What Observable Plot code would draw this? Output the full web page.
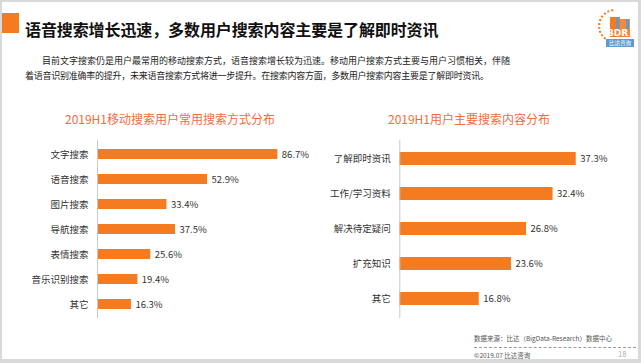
<!DOCTYPE html>
<html>
<head>
<meta charset="utf-8">
<script src="https://cdn.jsdelivr.net/npm/d3@7"></script>
<script src="https://cdn.jsdelivr.net/npm/@observablehq/plot@0.6"></script>
<style>
  html, body { margin: 0; padding: 0; background: #fff; }
  body { width: 641px; height: 363px; position: relative; overflow: hidden;
         font-family: "Noto Sans CJK SC", "Noto Sans", sans-serif; }
  .frame { position: absolute; left: 0; top: 0; width: 641px; height: 363px; box-sizing: border-box;
           border-style: solid; border-color: #d9d9d9; border-width: 2px 3px 4px 2px; }
  .abs { position: absolute; white-space: nowrap; }
  .title { left: 25px; top: 18px; font-size: 16px; line-height: 22px; font-weight: 700; color: #111; letter-spacing: -0.1px; }
  .bar { left: 2px; top: 13px; width: 17px; height: 20px; background: #F47B20; }
  .sub { font-size: 9px; line-height: 15px; color: #222; }
  .ctitle { font-size: 12px; line-height: 16px; color: #F26B3D; transform: translateX(-50%); }
  .foot { font-size: 6.5px; line-height: 9px; color: #555; }
  .dash { left: 474px; top: 346.5px; width: 162px; border-top: 1px dashed #999; }
  .chart { position: absolute; top: 130px; }
</style>
</head>
<body>
<div class="frame"></div>
<div class="abs bar"></div>
<div class="abs title" id="title"></div>
<div class="abs sub" id="sub1" style="left:42px; top:53px; letter-spacing:0px;"></div>
<div class="abs sub" id="sub2" style="left:25px; top:68px; letter-spacing:-0.25px;"></div>
<div class="abs ctitle" id="lt" style="left:170px; top:111px;"></div>
<div class="abs ctitle" id="rt" style="left:469px; top:111px;"></div>
<div class="chart" id="left" style="left:0px;"></div>
<div class="chart" id="right" style="left:320px;"></div>
<div class="abs foot" id="src" style="left:474px; top:333.5px;"></div>
<div class="abs dash"></div>
<div class="abs foot" id="copy" style="left:474px; top:350.5px;"></div>
<div class="abs foot" style="left:618px; top:348.5px; color:#aaa; font-size:7.5px;">18</div>
<!-- logo -->
<div class="abs" style="left:598px; top:7px; width:38px; height:42px;">
  <div style="position:absolute; left:0; top:2px; width:34px; height:34px; border-radius:50%; border:2px dotted #F47B20; box-sizing:border-box; clip-path: inset(0 50% 0 0);"></div>
  <div style="position:absolute; left:12px; top:10px; width:10px; height:20px; background:#F47B20;"></div>
  <div style="position:absolute; left:22px; top:12px; width:10px; height:18px; background:#F58A3A;"></div>
  <div style="position:absolute; left:18px; top:10px; width:3px; height:12px; background:#5B9BD5;"></div>
  <div style="position:absolute; left:28px; top:12px; width:3px; height:10px; background:#5B9BD5;"></div>
  <div style="position:absolute; left:9px; top:21px; font:700 9px 'DejaVu Sans', sans-serif; color:#fff; letter-spacing:0px;">BDR</div>
  <div style="position:absolute; left:8px; top:32px; width:28px; height:8px; background:#5B9BD5; color:#fff; font-size:5.5px; line-height:8px; text-align:center;">比达咨询</div>
</div>
<script>
// ---- texts ----
const titleText = "语音搜索增长迅速，多数用户搜索内容主要是了解即时资讯";
const subLine1 = "目前文字搜索仍是用户最常用的移动搜索方式，语音搜索增长较为迅速。移动用户搜索方式主要与用户习惯相关，伴随";
const subLine2 = "着语音识别准确率的提升，未来语音搜索方式将进一步提升。在搜索内容方面，多数用户搜索内容主要是了解即时资讯。";
const leftTitle = "2019H1移动搜索用户常用搜索方式分布";
const rightTitle = "2019H1用户主要搜索内容分布";
const sourceText = "数据来源：比达（BigData-Research）数据中心";
const copyText = "©2019.07 比达咨询";

// ---- data ----
const leftCats = ["文字搜索", "语音搜索", "图片搜索", "导航搜索", "表情搜索", "音乐识别搜索", "其它"];
const leftVals = [86.7, 52.9, 33.4, 37.5, 25.6, 19.4, 16.3];
const rightCats = ["了解即时资讯", "工作/学习资料", "解决待定疑问", "扩充知识", "其它"];
const rightVals = [37.3, 32.4, 26.8, 23.6, 16.8];

document.getElementById("title").textContent = titleText;
document.getElementById("sub1").textContent = subLine1;
document.getElementById("sub2").textContent = subLine2;
document.getElementById("lt").textContent = leftTitle;
document.getElementById("rt").textContent = rightTitle;
document.getElementById("src").textContent = sourceText;
document.getElementById("copy").textContent = copyText;

const FONT = '"Noto Sans CJK SC", "Noto Sans", sans-serif';

function chart(cats, vals, opts) {
  const data = cats.map((c, i) => ({c, v: vals[i]}));
  return Plot.plot({
    width: opts.width,
    height: 200,
    marginTop: 10,
    marginBottom: 12,
    marginLeft: opts.marginLeft,
    marginRight: opts.marginRight,
    x: {domain: [0, opts.xMax], axis: null},
    y: {domain: cats, paddingInner: opts.pi, paddingOuter: opts.po, label: null},
    style: {fontFamily: FONT, fontSize: "9.5px", color: "#333", background: "transparent", overflow: "visible"},
    marks: [
      Plot.barX(data, {x: "v", y: "c", fill: "#F47B20"}),
      Plot.ruleX([0], {stroke: "#c8c8c8", strokeWidth: 1}),
      Plot.text(data, {x: "v", y: "c", text: d => d.v.toFixed(1) + "%", dx: 4, textAnchor: "start", fill: "#333", fontSize: 9.5}),
      Plot.axisY({tickSize: 0, tickPadding: 9, fontSize: 9.5, label: null})
    ]
  });
}

document.getElementById("left").append(chart(leftCats, leftVals, {width: 320, marginLeft: 97, marginRight: 15, xMax: 100, pi: 0.59, po: 0.3}));
document.getElementById("right").append(chart(rightCats, rightVals, {width: 321, marginLeft: 79.3, marginRight: 52.5, xMax: 40, pi: 0.62, po: 0.3}));
</script>
</body>
</html>
